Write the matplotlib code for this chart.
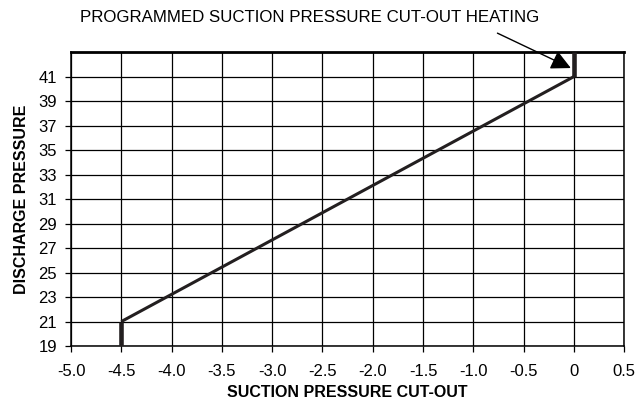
import matplotlib
matplotlib.use("Agg")
import matplotlib.pyplot as plt

plt.rcParams['font.family'] = ['Liberation Sans', 'DejaVu Sans']

# cut-out curve
suction = [-4.5, -4.5, 0.0, 0.0]
discharge = [19, 21, 41, 43]

x_ticks = [-5.0, -4.5, -4.0, -3.5, -3.0, -2.5, -2.0, -1.5, -1.0, -0.5, 0.0, 0.5]
x_labels = ['-5.0', '-4.5', '-4.0', '-3.5', '-3.0', '-2.5', '-2.0', '-1.5', '-1.0', '-0.5', '0', '0.5']
y_ticks = [19, 21, 23, 25, 27, 29, 31, 33, 35, 37, 39, 41]

ink = '#231f20'

fig = plt.figure(figsize=(6.38, 4.01), dpi=100)
ax = fig.add_axes([0.1113, 0.137, 0.867, 0.733])

ax.plot(suction[1:3], discharge[1:3], color=ink, lw=2.2, solid_capstyle='butt', zorder=3)
ax.plot(suction[0:2], discharge[0:2], color=ink, lw=3.3, solid_capstyle='butt', zorder=3)
ax.plot(suction[2:4], discharge[2:4], color=ink, lw=3.3, solid_capstyle='butt', zorder=3)

ax.set_xlim(-5.0, 0.5)
ax.set_ylim(19, 43)
ax.set_xticks(x_ticks)
ax.set_xticklabels(x_labels)
ax.set_yticks(y_ticks)
ax.grid(True, color='black', lw=0.9)
ax.set_axisbelow(True)

for side in ['left', 'right', 'bottom']:
    ax.spines[side].set_linewidth(1.1)
ax.spines['top'].set_linewidth(2.0)

ax.tick_params(axis='both', direction='out', length=4, width=0.9, labelsize=12, colors='black')
ax.tick_params(axis='x', pad=9)
ax.tick_params(axis='y', pad=6)

ax.set_xlabel('SUCTION PRESSURE CUT-OUT', fontsize=11.5, fontweight='bold', labelpad=4)
ax.set_ylabel('DISCHARGE PRESSURE', fontsize=11.5, fontweight='bold', labelpad=7)

ax.text(-2.63, 45.8, 'PROGRAMMED SUCTION PRESSURE CUT-OUT HEATING',
        ha='center', va='center', fontsize=12.2, clip_on=False)
ax.annotate('', xy=(-0.03, 41.7), xycoords='data',
            xytext=(-0.76, 44.55), textcoords='data',
            arrowprops=dict(arrowstyle='-|>', color='black', lw=1.0,
                            mutation_scale=30, shrinkA=0, shrinkB=0),
            annotation_clip=False)

fig.savefig('out.png', dpi=100)
